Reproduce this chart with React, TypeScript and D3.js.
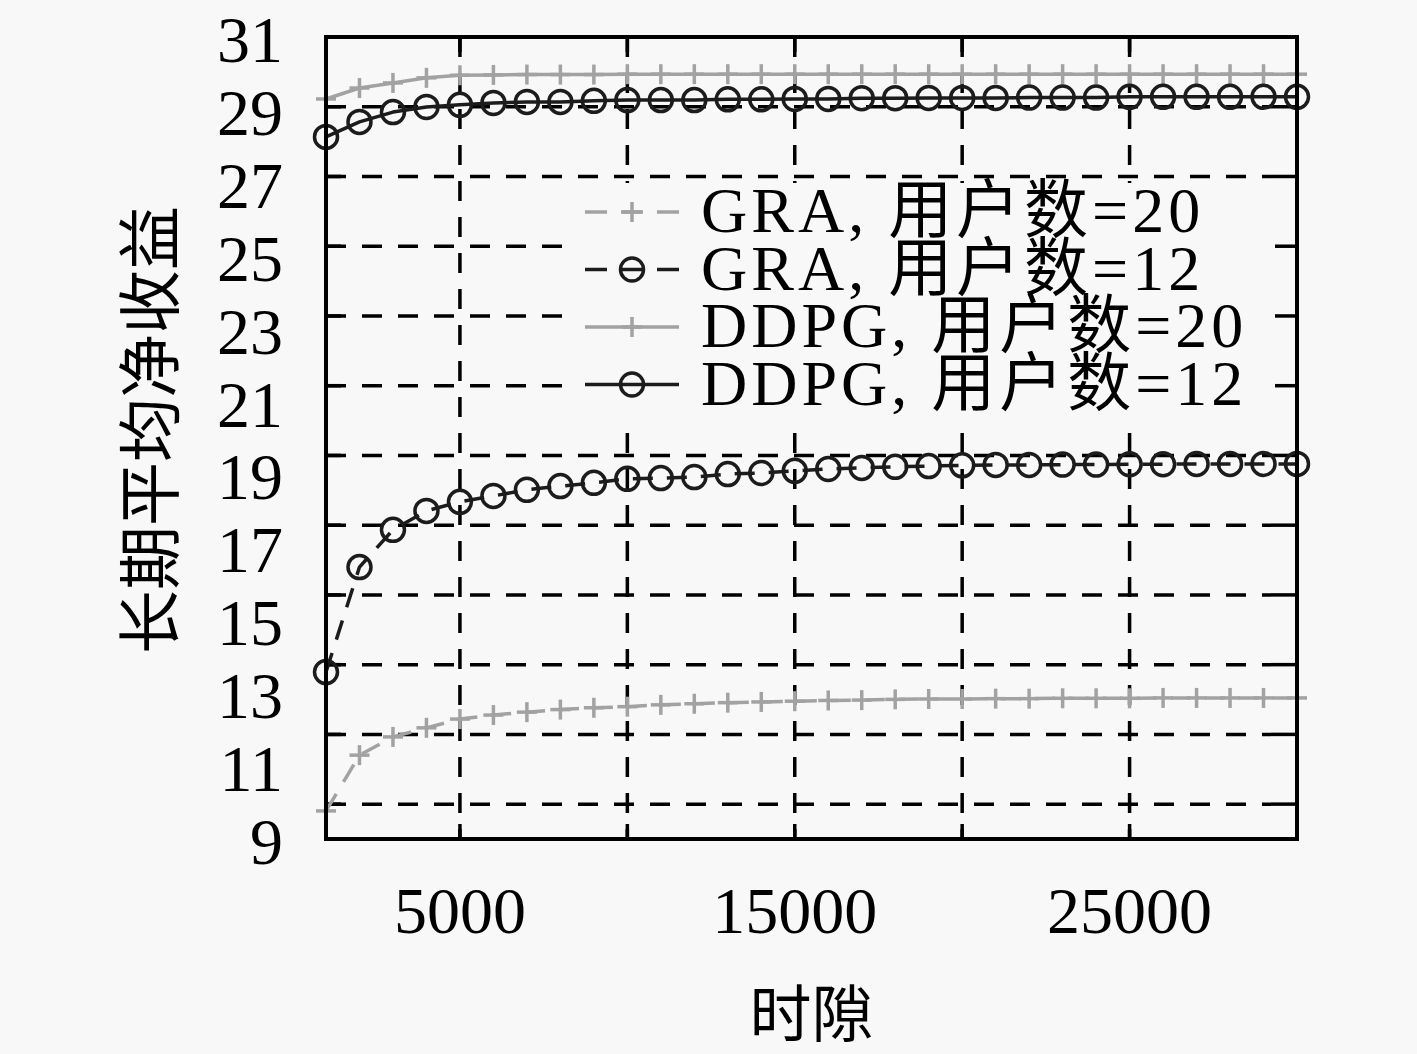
// @ts-nocheck
import React from 'react'
import * as d3 from 'd3'

// time slots (x) and the long-term average net profit of each curve
const slots = [
  1000, 2000, 3000, 4000, 5000, 6000, 7000, 8000, 9000, 10000, 11000, 12000, 13000, 14000, 15000,
  16000, 17000, 18000, 19000, 20000, 21000, 22000, 23000, 24000, 25000, 26000, 27000, 28000, 29000, 30000,
]
const gra20 = [
  9.77, 11.3, 11.8, 12.05, 12.29, 12.4, 12.48, 12.55, 12.6, 12.63, 12.68, 12.71, 12.74, 12.76, 12.78,
  12.8, 12.81, 12.83, 12.84, 12.84, 12.85, 12.85, 12.86, 12.86, 12.86, 12.87, 12.87, 12.87, 12.87, 12.87,
]
const gra12 = [
  13.58, 16.46, 17.48, 18.0, 18.25, 18.41, 18.58, 18.68, 18.77, 18.88, 18.9, 18.93, 19.01, 19.04, 19.1,
  19.15, 19.18, 19.21, 19.23, 19.25, 19.26, 19.26, 19.27, 19.27, 19.28, 19.28, 19.29, 19.29, 19.29, 19.29,
]
const ddpg20 = [
  29.3, 29.6, 29.74, 29.88, 29.95, 29.96, 29.97, 29.97, 29.97, 29.98, 29.98, 29.98, 29.98, 29.98, 29.98,
  29.98, 29.98, 29.98, 29.98, 29.98, 29.98, 29.98, 29.98, 29.98, 29.98, 29.98, 29.98, 29.98, 29.98, 29.98,
]
const ddpg12 = [
  28.26, 28.67, 28.94, 29.08, 29.14, 29.19, 29.22, 29.22, 29.25, 29.27, 29.27, 29.27, 29.29, 29.29, 29.3,
  29.3, 29.32, 29.32, 29.33, 29.33, 29.33, 29.34, 29.34, 29.34, 29.36, 29.36, 29.36, 29.36, 29.36, 29.36,
]

const xTicks = [5000, 15000, 25000]
const xGrid = [5000, 10000, 15000, 20000, 25000]
const yTicks = [9, 11, 13, 15, 17, 19, 21, 23, 25, 27, 29, 31]
const legendLabels = ['GRA, 用户数=20', 'GRA, 用户数=12', 'DDPG, 用户数=20', 'DDPG, 用户数=12']

const W = 1417
const H = 1054
const left = 326
const right = 1297
const top = 37
const bottom = 839

const bg = '#f8f8f8'
const gray = '#a2a2a2'
const dark = '#1c1c1c'
const latin = "'Liberation Serif', 'Noto Sans CJK SC', serif"
const cjk = "'Noto Sans CJK SC', sans-serif"

const x = d3.scaleLinear().domain([1000, 30000]).range([left, right])
const y = d3.scaleLinear().domain([9, 31]).range([bottom, top])

// grid lines of the original figure do not sit on the labels
const yGrid = d3.range(11).map((k) => 9 + (22 * (k + 0.5)) / 11.5)

const series = [
  { name: legendLabels[0], values: gra20, color: gray, dash: '20,14', marker: 'plus' },
  { name: legendLabels[1], values: gra12, color: dark, dash: '20,14', marker: 'circle' },
  { name: legendLabels[2], values: ddpg20, color: gray, dash: null, marker: 'plus' },
  { name: legendLabels[3], values: ddpg12, color: dark, dash: null, marker: 'circle' },
]

const line = d3
  .line()
  .x((d) => x(d[0]))
  .y((d) => y(d[1]))

const Marker = ({ type, cx, cy, color }) => {
  if (type === 'circle') {
    return <circle cx={cx} cy={cy} r={11.5} fill="none" stroke={color} strokeWidth={3.5} />
  }
  return (
    <g stroke={color} strokeWidth={3.5}>
      <line x1={cx - 10} x2={cx + 10} y1={cy} y2={cy} />
      <line x1={cx} x2={cx} y1={cy - 10} y2={cy + 10} />
    </g>
  )
}

const Grid = () => (
  <g stroke="#000" strokeWidth={3.5} strokeDasharray="20,16">
    {xGrid.map((v) => (
      <line key={'gx' + v} x1={x(v)} x2={x(v)} y1={top} y2={bottom} />
    ))}
    {yGrid.map((v, i) => (
      <line key={'gy' + i} x1={left} x2={right} y1={y(v)} y2={y(v)} />
    ))}
  </g>
)

const Ticks = () => (
  <g stroke="#000" strokeWidth={3.5}>
    {xGrid.map((v) => (
      <g key={'tx' + v}>
        <line x1={x(v)} x2={x(v)} y1={bottom} y2={bottom - 15} />
        <line x1={x(v)} x2={x(v)} y1={top} y2={top + 15} />
      </g>
    ))}
    {yGrid.map((v, i) => (
      <g key={'ty' + i}>
        <line x1={left} x2={left + 15} y1={y(v)} y2={y(v)} />
        <line x1={right} x2={right - 15} y1={y(v)} y2={y(v)} />
      </g>
    ))}
  </g>
)

const Legend = () => {
  const rows = [212, 269.5, 327, 384.5]
  return (
    <g>
      <rect x={567} y={183} width={708} height={238} fill={bg} />
      {series.map((s, i) => (
        <g key={s.name}>
          <line
            x1={585}
            x2={679}
            y1={rows[i]}
            y2={rows[i]}
            stroke={s.color}
            strokeWidth={3.5}
            strokeDasharray={s.dash ? '22,14' : null}
          />
          <Marker type={s.marker} cx={632} cy={rows[i]} color={s.color} />
          <text x={701} y={rows[i] + 20} fontFamily={latin} fontSize={64} letterSpacing={4} fill="#000">
            {s.name}
          </text>
        </g>
      ))}
    </g>
  )
}

const App = () => {
  const labelPos = d3.scaleLinear().domain([0, yTicks.length - 1]).range(y.domain())
  return (
    <div style={{ position: 'absolute', left: 0, top: 0 }}>
      <svg width={W} height={H} style={{ display: 'block' }}>
        <rect width={W} height={H} fill={bg} />
        <Grid />
        <Ticks />
        {series.map((s) => {
          const pts = slots.map((t, i) => [t, s.values[i]])
          return (
            <g key={s.name}>
              <path
                d={line(pts)}
                fill="none"
                stroke={s.color}
                strokeWidth={3.5}
                strokeDasharray={s.dash}
                strokeLinejoin="round"
              />
              {pts.map((p) => (
                <Marker key={p[0]} type={s.marker} cx={x(p[0])} cy={y(p[1])} color={s.color} />
              ))}
            </g>
          )
        })}
        <Legend />
        <rect x={left} y={top} width={right - left} height={bottom - top} fill="none" stroke="#000" strokeWidth={4} />
        {yTicks.map((v, i) => (
          <text
            key={'yl' + v}
            x={283}
            y={y(labelPos(i)) + 25}
            textAnchor="end"
            fontFamily={latin}
            fontSize={66}
            fill="#000"
          >
            {v}
          </text>
        ))}
        {xTicks.map((v) => (
          <text key={'xl' + v} x={x(v)} y={933} textAnchor="middle" fontFamily={latin} fontSize={66} fill="#000">
            {v}
          </text>
        ))}
        <text
          x={(left + right) / 2}
          y={1010}
          textAnchor="middle"
          dominantBaseline="central"
          fontFamily={cjk}
          fontSize={62}
          fill="#000"
        >
          时隙
        </text>
        <text
          transform={`translate(145, ${(top + bottom) / 2 - 8}) rotate(-90)`}
          textAnchor="middle"
          dominantBaseline="central"
          fontFamily={cjk}
          fontSize={64}
          fill="#000"
        >
          长期平均净收益
        </text>
      </svg>
    </div>
  )
}

export default App
